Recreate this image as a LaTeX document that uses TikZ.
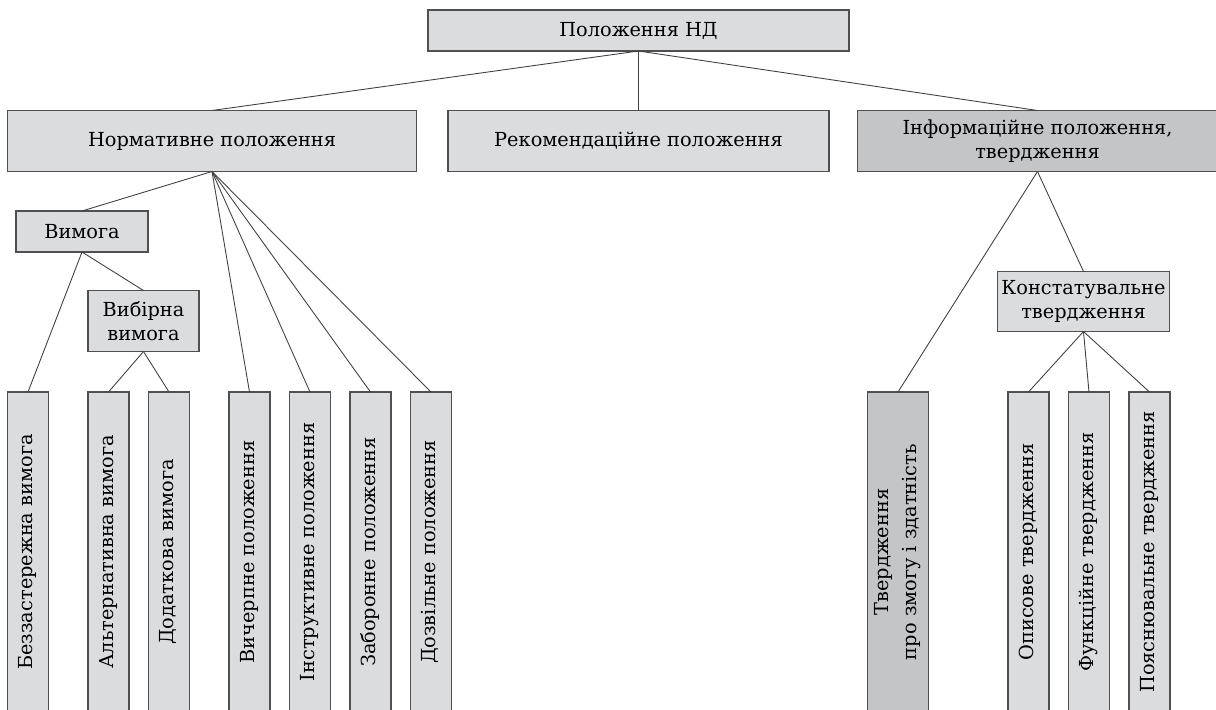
\documentclass[tikz,border=0pt]{standalone}
\usepackage{fontspec}
\setmainfont{DejaVu Serif}
\usepackage{graphicx}
\usetikzlibrary{positioning}
\definecolor{boxgray}{RGB}{219,220,222}
\definecolor{boxdark}{RGB}{196,197,199}
\definecolor{edgegray}{RGB}{80,80,82}
\newcommand{\upright}[1]{\rotatebox{90}{\begin{tabular}{@{}c@{}}#1\end{tabular}}}

\begin{document}
\begin{tikzpicture}[every node/.style={font=\fontsize{11}{14}\selectfont},
	box/.style={rectangle, draw=edgegray, line width=0.6pt, fill=boxgray, inner sep=0pt, outer sep=0pt, minimum height=0.82cm},
	tall/.style={box, minimum height=1.22cm, align=center},
	leaf/.style={box, minimum width=0.82cm, minimum height=6.4cm},
	link/.style={draw=black!75, line width=0.5pt}]
	\useasboundingbox (0,0) rectangle (24.32,-14.2);
	
	\node[box, minimum width=8.42cm] (nd) at (12.77,-0.61) {Положення НД};
	\node[tall, minimum width=7.62cm, below=1.19cm of nd] (rek) {Рекомендаційне положення};
	\node[tall, minimum width=8.18cm, left=0.63cm of rek] (norm) {Нормативне положення};
	\node[tall, minimum width=7.2cm, right=0.57cm of rek, fill=boxdark] (inf) {Інформаційне положення,\\твердження};
	
	\node[box, minimum width=2.64cm, below right=0.79cm and 0.17cm of norm.south west] (vym) {Вимога};
	\node[tall, minimum width=2.22cm, below right=0.77cm and 1.44cm of vym.south west] (vyb) {Вибірна\\вимога};
	\node[tall, minimum width=3.44cm, minimum height=1.2cm, below right=2cm and 2.8cm of inf.south west] (konst) {Констатувальне\\твердження};
	
	\node[leaf, below right=4.41cm and 0cm of norm.south west] (bez) {\upright{Беззастережна вимога}};
	\node[leaf, right=0.79cm of bez] (alt) {\upright{Альтернативна вимога}};
	\node[leaf, right=0.39cm of alt] (dod) {\upright{Додаткова вимога}};
	\node[leaf, right=0.79cm of dod] (vych) {\upright{Вичерпне положення}};
	\node[leaf, right=0.39cm of vych] (instr) {\upright{Інструктивне положення}};
	\node[leaf, right=0.39cm of instr] (zab) {\upright{Заборонне положення}};
	\node[leaf, right=0.39cm of zab] (dozv) {\upright{Дозвільне положення}};
	
	\node[leaf, minimum width=1.22cm, fill=boxdark, below right=4.41cm and 0.2cm of inf.south west] (zdat) {\upright{Твердження\\[2pt] про змогу і здатність}};
	\node[leaf, right=1.59cm of zdat] (opys) {\upright{Описове твердження}};
	\node[leaf, right=0.39cm of opys] (funk) {\upright{Функційне твердження}};
	\node[leaf, right=0.39cm of funk] (poyas) {\upright{Пояснювальне твердження}};
	
	\draw[link] (nd.south) -- (norm.north);
	\draw[link] (nd.south) -- (rek.north);
	\draw[link] (nd.south) -- (inf.north);
	
	\draw[link] (norm.south) -- (vym.north);
	\draw[link] (norm.south) -- (vych.north);
	\draw[link] (norm.south) -- (instr.north);
	\draw[link] (norm.south) -- (zab.north);
	\draw[link] (norm.south) -- (dozv.north);
	\draw[link] (vym.south) -- (bez.north);
	\draw[link] (vym.south) -- (vyb.north);
	\draw[link] (vyb.south) -- (alt.north);
	\draw[link] (vyb.south) -- (dod.north);
	
	\draw[link] (inf.south) -- (zdat.north);
	\draw[link] (inf.south) -- (konst.north);
	\draw[link] (konst.south) -- (opys.north);
	\draw[link] (konst.south) -- (funk.north);
	\draw[link] (konst.south) -- (poyas.north);
\end{tikzpicture}
\end{document}
